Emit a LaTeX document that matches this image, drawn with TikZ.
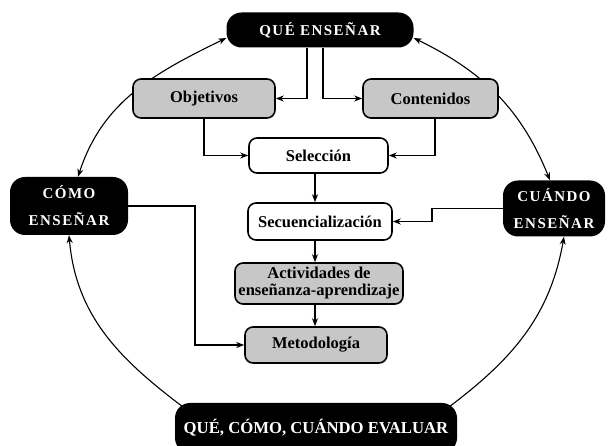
\documentclass[tikz,border=0pt]{standalone}
\usepackage{fontspec}
\setmainfont{Liberation Serif}
\newfontfamily\spaced[LetterSpace=10]{Liberation Serif}
\usetikzlibrary{arrows.meta,backgrounds,calc}
\begin{document}
\begin{tikzpicture}[x=1pt,y=1pt,
  blk/.style={fill=black,text=white,rounded corners=15pt,inner sep=0pt,align=center,font=\spaced\fontsize{15}{27}\selectfont\bfseries},
  box/.style={draw,line width=1.6pt,rounded corners=8pt,inner sep=0pt,align=center,font=\fontsize{16.5}{17}\selectfont\bfseries},
  gry/.style={box,fill=black!22},
  wht/.style={box,fill=white},
  con/.style={line width=1.4pt,-{Stealth[length=8pt,width=6pt]}},
  arc/.style={line width=1.1pt},
  tip/.tip={Stealth[length=8pt,width=6pt]}]
\useasboundingbox (0,0) rectangle (609,446);
\node[blk,minimum width=187pt,minimum height=35pt] (que) at (320,416) {QUÉ ENSEÑAR};
\node[gry,minimum width=142pt,minimum height=39pt] (obj) at (204,347.5) {Objetivos};
\node[gry,minimum width=135pt,minimum height=39pt] (cont) at (430.5,347.5) {Contenidos};
\node[wht,minimum width=139pt,minimum height=35pt] (sel) at (318.5,290.5) {Selección};
\node[blk,minimum width=118pt,minimum height=58pt] (como) at (69,240) {CÓMO\\ENSEÑAR};
\node[blk,minimum width=102pt,minimum height=56pt] (cuando) at (554,237.5) {CUÁNDO\\ENSEÑAR};
\node[wht,minimum width=144pt,minimum height=37pt] (sec) at (320,224.5) {Secuencialización};
\node[gry,minimum width=168pt,minimum height=41pt] (act) at (319,162.5) {Actividades de\\enseñanza-aprendizaje};
\node[gry,minimum width=142pt,minimum height=36pt] (met) at (316,101) {Metodología};
\node[blk,minimum width=282pt,minimum height=50pt,font=\fontsize{16.7}{18}\selectfont\bfseries] (eval) at (316,18) {QUÉ, CÓMO, CUÁNDO EVALUAR};
\coordinate (spine) at (315,0);
\coordinate (jog) at (432,230);
\coordinate (bend) at (195,101);
\draw[con] ([xshift=-13pt]que.south) |- (obj.east);
\draw[con] ([xshift=3pt]que.south) |- (cont.west);
\draw[con] (obj.south) |- (sel.west);
\draw[con] ([xshift=4.5pt]cont.south) |- (sel.east);
\draw[con] (sel.south -| spine) -- (sec.north -| spine);
\draw[con] (sec.south -| spine) -- (act.north -| spine);
\draw[con] (act.south -| spine) -- (met.north -| spine);
\draw[con] (cuando.west) -| (jog) |- (sec.east);
\draw[con] (como.east) -| (bend) -- (met.west);
\begin{scope}[on background layer]
\draw[arc,tip-tip] ([xshift=9pt]como.north) to[out=72,in=206] ([yshift=-8pt]que.west);
\draw[arc,tip-tip] ([yshift=-8pt]que.east) to[out=-26,in=112] ([xshift=-4pt]cuando.north);
\draw[arc,-tip] ([xshift=8pt,yshift=-4pt]eval.north west) to[out=143,in=-85] (como.south);
\draw[arc,-tip] ([xshift=-8pt,yshift=-4pt]eval.north east) to[out=37,in=-100] ([xshift=10pt]cuando.south);
\end{scope}
\end{tikzpicture}
\end{document}
